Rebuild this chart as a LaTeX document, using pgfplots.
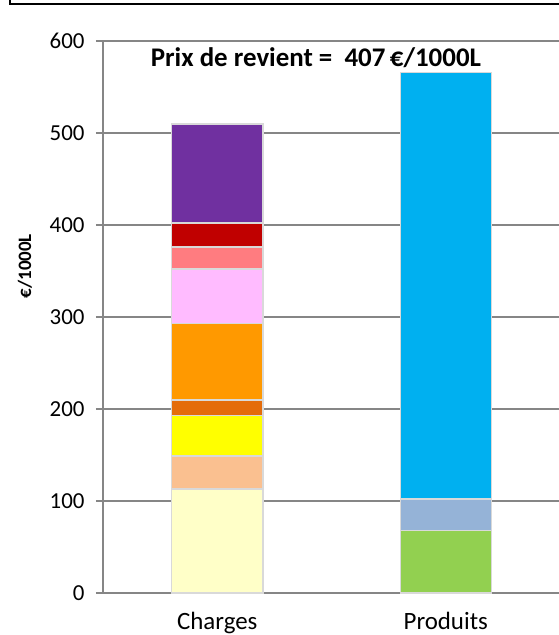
\documentclass[border=0pt]{standalone}
\usepackage{pgfplots}
\pgfplotsset{compat=1.18}
\usepackage{fontspec}
\setmainfont{Carlito}
\definecolor{cLY}{HTML}{FFFFC8}
\definecolor{cPe}{HTML}{FAC090}
\definecolor{cYe}{HTML}{FFFF00}
\definecolor{cDO}{HTML}{E46C0A}
\definecolor{cOr}{HTML}{FF9900}
\definecolor{cLP}{HTML}{FFBBFF}
\definecolor{cPk}{HTML}{FF7C80}
\definecolor{cRe}{HTML}{C00000}
\definecolor{cPu}{HTML}{7030A0}
\definecolor{cBl}{HTML}{00B0F0}
\definecolor{cBg}{HTML}{95B3D7}
\definecolor{cGr}{HTML}{92D050}
\definecolor{cGrid}{HTML}{868686}
\definecolor{cEdge}{HTML}{D9D9D9}
\begin{document}
\begin{tikzpicture}
\begin{axis}[
  at={(0,0)}, anchor=south west,
  scale only axis, width=457bp, height=552bp,
  ybar stacked, bar width=91bp,
  xmin=-0.5, xmax=1.5, ymin=0, ymax=600,
  xtick={0,1}, xticklabels={Charges,Produits},
  major x tick style={draw=none},
  extra x ticks={-0.5,0.5,1.5}, extra x tick labels={},
  extra x tick style={tick align=outside, major tick length=7bp, tick style={draw=cGrid, line width=1.2bp}, grid=none},
  ytick={0,100,...,600},
  /pgf/number format/assume math mode=true,
  tick align=outside, major tick length=7bp,
  tick style={draw=cGrid, line width=1.2bp},
  ymajorgrids, grid style={draw=cGrid, line width=1.2bp},
  axis x line*=bottom, axis y line*=left,
  axis line style={draw=cGrid, line width=1.2bp, -},
  yticklabel style={font=\fontsize{23}{26}\selectfont, xshift=-8bp},
  xticklabel style={font=\fontsize{25}{28}\selectfont, yshift=-9bp},
  ylabel={\textbf{€/1000L}},
  ylabel style={font=\fontsize{19}{22}\selectfont, at={(rel axis cs:0,0.592)}, anchor=center, yshift=78bp},
  every axis plot/.append style={draw=cEdge, line width=1.5bp},
  clip=false,
]
\addplot[fill=cLY] coordinates {(0,113) (1,0)};
\addplot[fill=cPe] coordinates {(0,36) (1,0)};
\addplot[fill=cYe] coordinates {(0,44) (1,0)};
\addplot[fill=cDO] coordinates {(0,17) (1,0)};
\addplot[fill=cOr] coordinates {(0,83) (1,0)};
\addplot[fill=cLP] coordinates {(0,59) (1,0)};
\addplot[fill=cPk] coordinates {(0,24) (1,0)};
\addplot[fill=cRe] coordinates {(0,26) (1,0)};
\addplot[fill=cPu] coordinates {(0,108) (1,0)};
\addplot[fill=cGr] coordinates {(0,0) (1,68)};
\addplot[fill=cBg] coordinates {(0,0) (1,34)};
\addplot[fill=cBl] coordinates {(0,0) (1,464)};
\node[font=\bfseries\fontsize{27}{30}\selectfont] at (rel axis cs:0.466,0.969) {Prix de revient =\ \ 407\,€/1000L};
\end{axis}
\draw[line width=2.5bp, black] (-93bp,600bp) -- (-93bp,589bp) -- (470bp,589bp);
\pgfresetboundingbox
\useasboundingbox (-103bp,-42bp) rectangle (456bp,593bp);
\end{tikzpicture}
\end{document}
